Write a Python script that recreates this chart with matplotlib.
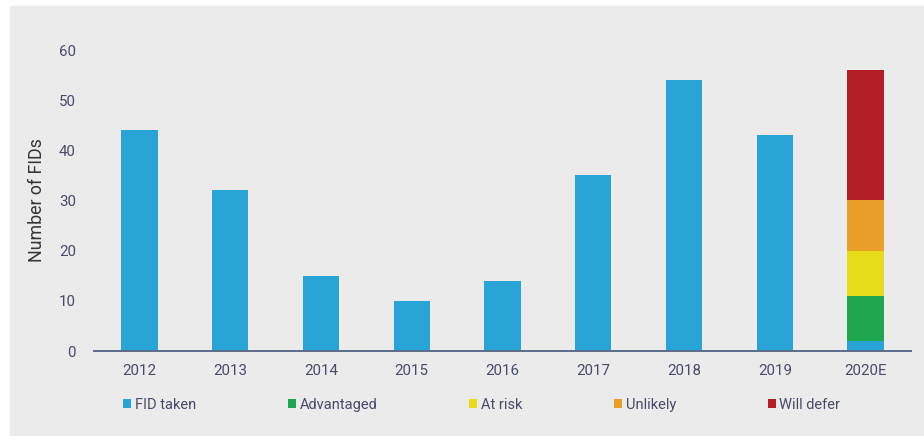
import matplotlib
matplotlib.use("Agg")
import matplotlib.pyplot as plt
from matplotlib.patches import Rectangle, Patch
import numpy as np

plt.rcParams["font.family"] = ["Roboto", "DejaVu Sans"]

# ── Données ───────────────────────────────────────────────────────────────────
years = ["2012", "2013", "2014", "2015", "2016", "2017", "2018", "2019", "2020E"]
fid_taken = [44, 32, 15, 10, 14, 35, 54, 43, 2]
advantaged = [0, 0, 0, 0, 0, 0, 0, 0, 9]
at_risk = [0, 0, 0, 0, 0, 0, 0, 0, 9]
unlikely = [0, 0, 0, 0, 0, 0, 0, 0, 10]
will_defer = [0, 0, 0, 0, 0, 0, 0, 0, 26]

series = [
    ("FID taken", fid_taken, "#29a4d7"),
    ("Advantaged", advantaged, "#1fa650"),
    ("At risk", at_risk, "#e6dc1a"),
    ("Unlikely", unlikely, "#e99f27"),
    ("Will defer", will_defer, "#b41f27"),
]

# ── Figure ────────────────────────────────────────────────────────────────────
fig = plt.figure(figsize=(9.24, 4.36), dpi=100)
fig.patches.append(Rectangle((10 / 924, 0), 1 - 10 / 924, 1 - 6 / 436,
                             transform=fig.transFigure, color="#ebebeb", zorder=-5))

ax = fig.add_axes([94 / 924, 1 - 351 / 436, (911 - 94) / 924, (351 - 50) / 436])
ax.set_facecolor("none")

x = np.arange(len(years))
bottom = np.zeros(len(years))
for label, vals, color in series:
    vals = np.array(vals, dtype=float)
    ax.bar(x, vals, width=0.4, bottom=bottom, color=color, label=label, zorder=2)
    bottom += vals

ax.set_xlim(-0.5, 8.5)
ax.set_ylim(0, 60)
ax.set_yticks(range(0, 61, 10))
ax.set_xticks(x)
ax.set_xticklabels(years)

tick_color = "#474a6b"
ax.tick_params(axis="both", length=0, labelsize=10.8, labelcolor=tick_color)
ax.tick_params(axis="x", pad=9)
ax.tick_params(axis="y", pad=13)

for side in ["top", "right", "left"]:
    ax.spines[side].set_visible(False)
ax.spines["bottom"].set_color("#5b6c8c")
ax.spines["bottom"].set_linewidth(1.4)
ax.spines["bottom"].set_zorder(3)

ax.set_ylabel("Number of FIDs", fontsize=12.8, color="#333333", labelpad=9)

handles = [Patch(facecolor=c, label=l) for l, _, c in series]
fig.legend(handles=handles, loc="center left", bbox_to_anchor=(123 / 924, 1 - 405 / 436),
           ncol=5, frameon=False, fontsize=10.5, labelcolor=tick_color,
           handlelength=0.55, handleheight=0.55, handletextpad=0.25,
           columnspacing=6.3, borderpad=0, borderaxespad=0)

fig.savefig("out.png", dpi=100)
